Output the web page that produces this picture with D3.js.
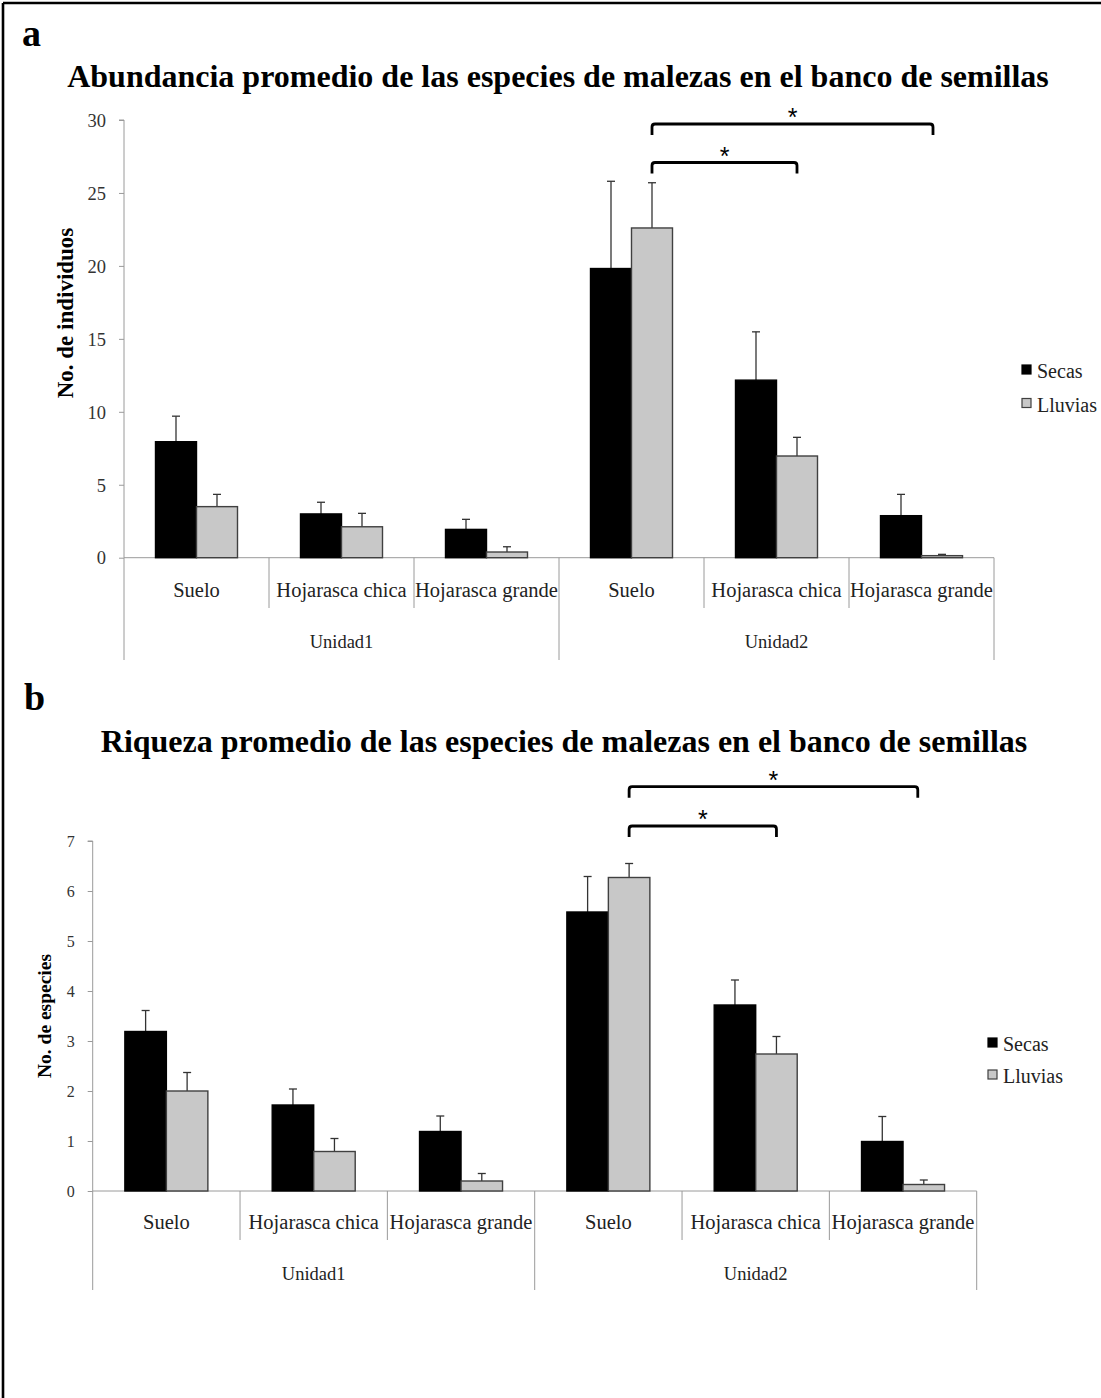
<!DOCTYPE html>
<html>
<head>
<meta charset="utf-8">
<script src="https://cdn.jsdelivr.net/npm/d3@7"></script>
<style>
  html, body { margin: 0; padding: 0; background: #fff; }
  svg { display: block; }
</style>
</head>
<body>
<svg id="fig" width="1101" height="1398"></svg>
<script>
// ---------------- data ----------------
const categories = ["Suelo", "Hojarasca chica", "Hojarasca grande", "Suelo", "Hojarasca chica", "Hojarasca grande"];
const groups = ["Unidad1", "Unidad2"];
const series = ["Secas", "Lluvias"];

// Panel a: abundance (No. de individuos)
const abundSecas      = [7.95, 3.00, 1.94, 19.82, 12.17, 2.88];
const abundSecasErr   = [1.75, 0.80, 0.69, 5.98, 3.31, 1.46];
const abundLluvias    = [3.50, 2.12, 0.39, 22.60, 6.97, 0.14];
const abundLluviasErr = [0.84, 0.92, 0.36, 3.10, 1.28, 0.09];
const abundTicks = [0, 5, 10, 15, 20, 25, 30];

// Panel b: richness (No. de especies)
const riqSecas      = [3.19, 1.72, 1.19, 5.58, 3.72, 0.99];
const riqSecasErr   = [0.42, 0.32, 0.31, 0.71, 0.50, 0.50];
const riqLluvias    = [2.00, 0.79, 0.20, 6.27, 2.74, 0.13];
const riqLluviasErr = [0.37, 0.26, 0.15, 0.28, 0.35, 0.09];
const riqTicks = [0, 1, 2, 3, 4, 5, 6, 7];

// significance brackets: [from category index, to category index] (Lluvias bars)
const brackets = [[3, 5], [3, 4]];

// ---------------- drawing ----------------
const svg = d3.select("#fig");
const SERIF = "'Liberation Serif', 'Times New Roman', serif";
const SANS = "'Liberation Sans', Arial, sans-serif";
const fills = {Secas: "#000000", Lluvias: "#c8c8c8"};
const strokes = {Secas: "#000000", Lluvias: "#404040"};
const axisColor = "#9a9a9a";

svg.append("defs").append("clipPath").attr("id", "pageclip")
  .append("rect").attr("x", 0).attr("y", 0).attr("width", 1097).attr("height", 1398);

// figure frame (top and left edges)
svg.append("line").attr("x1", 3).attr("x2", 1101).attr("y1", 3).attr("y2", 3)
  .attr("stroke", "#000").attr("stroke-width", 2.6);
svg.append("line").attr("x1", 3).attr("x2", 3).attr("y1", 3).attr("y2", 1398)
  .attr("stroke", "#000").attr("stroke-width", 2.6);

function drawPanel(cfg) {
  const g = svg.append("g").attr("clip-path", "url(#pageclip)");
  const idx = categories.map((d, i) => i);
  const x = d3.scaleBand().domain(idx).range([cfg.x0, cfg.x1]).paddingInner(0).paddingOuter(0);
  const y = d3.scaleLinear().domain([0, cfg.ymax]).range([cfg.yBase, cfg.yTop]);
  const bw = cfg.barW;
  const xs = d3.scaleBand().domain(series).range([-bw, bw]);

  // panel letter
  g.append("text").attr("x", cfg.letterX).attr("y", cfg.letterY)
    .attr("font-family", SERIF).attr("font-weight", "bold").attr("font-size", cfg.letterSize)
    .text(cfg.letter);
  // title
  g.append("text").attr("x", cfg.titleX).attr("y", cfg.titleY).attr("text-anchor", "middle")
    .attr("font-family", SERIF).attr("font-weight", "bold").attr("font-size", cfg.titleSize)
    .text(cfg.title);

  // y axis
  const yAxis = d3.axisLeft(y).tickValues(cfg.ticks).tickSize(5).tickPadding(cfg.tickPad)
    .tickFormat(d3.format("d"));
  const ya = g.append("g").attr("transform", `translate(${cfg.x0},0)`).call(yAxis);
  ya.select(".domain").attr("stroke", axisColor).attr("d", `M-5,${cfg.yTop}H0V${cfg.yBase}`);
  ya.selectAll(".tick line").attr("stroke", axisColor);
  ya.selectAll(".tick text").attr("font-family", SERIF).attr("font-size", cfg.tickSize)
    .attr("fill", "#333").attr("dy", "0.34em");

  // y axis title
  g.append("text")
    .attr("transform", `translate(${cfg.yTitleX},${cfg.yTitleY}) rotate(-90)`)
    .attr("text-anchor", "middle")
    .attr("font-family", SERIF).attr("font-weight", "bold").attr("font-size", cfg.yTitleSize)
    .text(cfg.yTitle);

  // x axis baseline
  g.append("line").attr("x1", cfg.x0).attr("x2", cfg.x1).attr("y1", cfg.yBase).attr("y2", cfg.yBase)
    .attr("stroke", axisColor);
  // separators
  const bounds = d3.range(categories.length + 1).map(i => cfg.x0 + i * x.bandwidth());
  bounds.forEach((bx, i) => {
    const outer = (i % 3 === 0);
    g.append("line").attr("x1", bx).attr("x2", bx).attr("y1", cfg.yBase)
      .attr("y2", outer ? cfg.sepOuter : cfg.sepInner).attr("stroke", axisColor);
  });
  // category labels
  g.selectAll(".cat").data(idx).join("text")
    .attr("x", d => x(d) + x.bandwidth() / 2).attr("y", cfg.catY)
    .attr("text-anchor", "middle").attr("font-family", SERIF).attr("font-size", cfg.catSize)
    .attr("fill", "#222").text(d => categories[d]);
  // group labels
  g.selectAll(".grp").data(groups).join("text")
    .attr("x", (d, i) => (x(i * 3) + x(i * 3 + 2) + x.bandwidth()) / 2).attr("y", cfg.grpY)
    .attr("text-anchor", "middle").attr("font-family", SERIF).attr("font-size", cfg.grpSize)
    .attr("fill", "#222").text(d => d);

  // bars
  const rows = [];
  idx.forEach(i => {
    rows.push({i, s: "Secas", v: cfg.secas[i], e: cfg.secasErr[i]});
    rows.push({i, s: "Lluvias", v: cfg.lluvias[i], e: cfg.lluviasErr[i]});
  });
  const cx = d => x(d.i) + x.bandwidth() / 2 + xs(d.s);
  rows.forEach(d => {
    const mx = cx(d) + xs.bandwidth() / 2;
    g.append("line").attr("x1", mx).attr("x2", mx).attr("y1", y(d.v)).attr("y2", y(d.v + d.e))
      .attr("stroke", "#333").attr("stroke-width", 1.3);
    g.append("line").attr("x1", mx - 4).attr("x2", mx + 4).attr("y1", y(d.v + d.e)).attr("y2", y(d.v + d.e))
      .attr("stroke", "#333").attr("stroke-width", 1.3);
  });
  g.selectAll(".bar").data(rows).join("rect")
    .attr("x", d => cx(d)).attr("width", xs.bandwidth())
    .attr("y", d => y(d.v)).attr("height", d => y(0) - y(d.v))
    .attr("fill", d => fills[d.s]).attr("stroke", d => strokes[d.s]).attr("stroke-width", 1.4);

  // significance brackets
  const lx = i => x(i) + x.bandwidth() / 2 + xs("Lluvias") + xs.bandwidth() / 2;
  cfg.brackets.forEach((b, k) => {
    const x1 = lx(b[0]);
    const x2 = lx(b[1]) - (b[1] === 5 ? cfg.bigNudge : 0);
    const top = cfg.brTop[k], leg = cfg.brLeg;
    const r = 3;
    g.append("path")
      .attr("d", `M${x1},${top + leg}V${top + r}Q${x1},${top} ${x1 + r},${top}H${x2 - r}Q${x2},${top} ${x2},${top + r}V${top + leg}`)
      .attr("fill", "none").attr("stroke", "#000").attr("stroke-width", 2.8);
    g.append("text").attr("x", (x1 + x2) / 2).attr("y", top - cfg.starGap)
      .attr("text-anchor", "middle").attr("font-family", SANS).attr("font-size", 25)
      .text("*");
  });

  // legend
  series.forEach((s, k) => {
    const ly = cfg.legY + k * cfg.legStep;
    g.append("rect").attr("x", cfg.legX).attr("y", ly - 13).attr("width", 9).attr("height", 9)
      .attr("fill", fills[s]).attr("stroke", strokes[s]).attr("stroke-width", 1.2);
    g.append("text").attr("x", cfg.legX + 15).attr("y", ly)
      .attr("font-family", SERIF).attr("font-size", 20).attr("fill", "#222").text(s);
  });
}

drawPanel({
  letter: "a", letterX: 22, letterY: 46, letterSize: 38,
  title: "Abundancia promedio de las especies de malezas en el banco de semillas",
  titleX: 558, titleY: 87, titleSize: 32,
  x0: 124, x1: 994, yBase: 557.7, yTop: 120, ymax: 30, ticks: abundTicks, barW: 41,
  tickSize: 18.5, tickPad: 13,
  yTitle: "No. de individuos", yTitleX: 73, yTitleY: 313, yTitleSize: 23,
  sepInner: 608, sepOuter: 660, catY: 597, catSize: 20.5, grpY: 648, grpSize: 18.5,
  secas: abundSecas, secasErr: abundSecasErr, lluvias: abundLluvias, lluviasErr: abundLluviasErr,
  brackets: brackets, brTop: [124, 162.5], brLeg: 11, bigNudge: 9, starGap: -2,
  legX: 1022, legY: 378, legStep: 33.5
});

drawPanel({
  letter: "b", letterX: 24, letterY: 710, letterSize: 38,
  title: "Riqueza promedio de las especies de malezas en el banco de semillas",
  titleX: 564, titleY: 752, titleSize: 32,
  x0: 92.7, x1: 976.7, yBase: 1191, yTop: 841, ymax: 7, ticks: riqTicks, barW: 41.5,
  tickSize: 16, tickPad: 13,
  yTitle: "No. de especies", yTitleX: 51, yTitleY: 1016, yTitleSize: 19.5,
  sepInner: 1240, sepOuter: 1290, catY: 1229, catSize: 20.5, grpY: 1280, grpSize: 18.5,
  secas: riqSecas, secasErr: riqSecasErr, lluvias: riqLluvias, lluviasErr: riqLluviasErr,
  brackets: brackets, brTop: [786.7, 826], brLeg: 11, bigNudge: 6, starGap: -2,
  legX: 988, legY: 1051, legStep: 32
});
</script>
</body>
</html>
